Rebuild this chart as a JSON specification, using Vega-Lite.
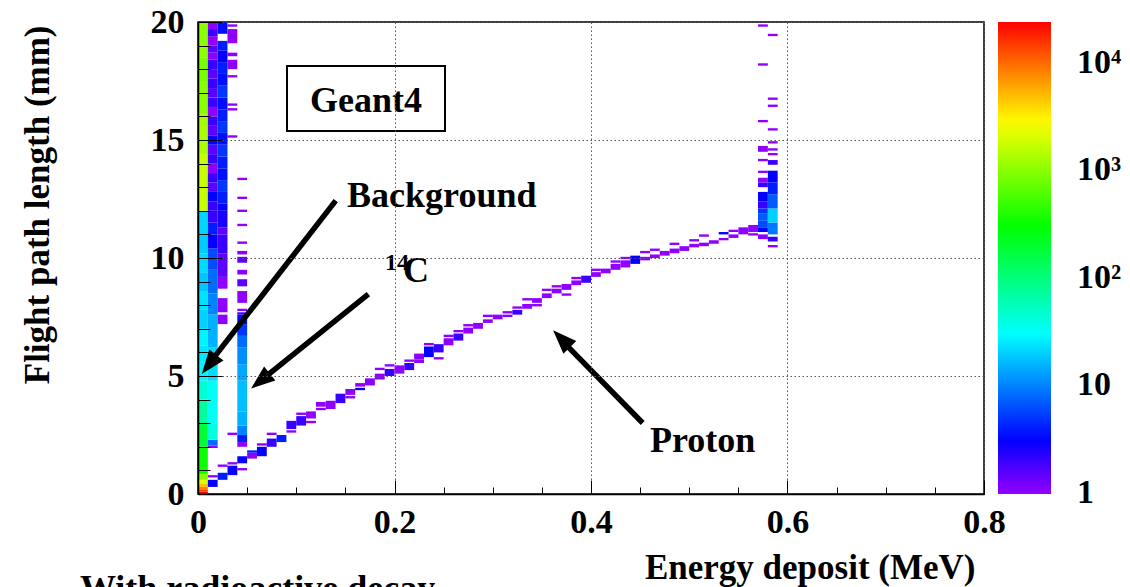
{
"$schema": "https://vega.github.io/schema/vega-lite/v6.json",
"width": 786, "height": 472,
"autosize": {"type": "none"},
"padding": {"left": 198, "top": 22, "right": 146, "bottom": 93},
"background": "white",
"config": {"font": "Liberation Serif", "view": {"stroke": "black", "strokeWidth": 1.5}},
"resolve": {"axis": {"x": "independent", "y": "independent"}},
"datasets": {
"cells": [
{"e0":0,"e1":0.01,"l0":0,"l1":0.1,"n":24000},{"e0":0,"e1":0.01,"l0":0.1,"l1":0.2,"n":14000},{"e0":0,"e1":0.01,"l0":0.2,"l1":0.3,"n":8300},{"e0":0,"e1":0.01,"l0":0.3,"l1":0.45,"n":4800},{"e0":0,"e1":0.01,"l0":0.45,"l1":0.6,"n":2100},{"e0":0,"e1":0.01,"l0":0.6,"l1":0.85,"n":900},{"e0":0,"e1":0.01,"l0":0.85,"l1":2.0,"n":330},{"e0":0,"e1":0.01,"l0":2.0,"l1":3.0,"n":190},{"e0":0,"e1":0.01,"l0":3.0,"l1":4.0,"n":75},{"e0":0,"e1":0.01,"l0":4.0,"l1":4.8,"n":45},{"e0":0,"e1":0.01,"l0":4.8,"l1":5.6,"n":28},{"e0":0,"e1":0.01,"l0":5.6,"l1":6.3,"n":24},{"e0":0,"e1":0.01,"l0":6.3,"l1":7.0,"n":27},{"e0":0,"e1":0.01,"l0":7.0,"l1":7.8,"n":20},{"e0":0,"e1":0.01,"l0":7.8,"l1":8.6,"n":23},{"e0":0,"e1":0.01,"l0":8.6,"l1":9.4,"n":18},{"e0":0,"e1":0.01,"l0":9.4,"l1":10.2,"n":22},{"e0":0,"e1":0.01,"l0":10.2,"l1":11.0,"n":19},{"e0":0,"e1":0.01,"l0":11.0,"l1":12.0,"n":21},{"e0":0,"e1":0.01,"l0":12.0,"l1":14.4,"n":1700},{"e0":0,"e1":0.01,"l0":14.4,"l1":16.1,"n":1300},{"e0":0,"e1":0.01,"l0":16.1,"l1":17.5,"n":1000},{"e0":0,"e1":0.01,"l0":17.5,"l1":18.5,"n":850},{"e0":0,"e1":0.01,"l0":18.5,"l1":20,"n":1000},
{"e0":0.01,"e1":0.02,"l0":0.3,"l1":0.6,"n":3},{"e0":0.01,"e1":0.02,"l0":0.7,"l1":0.8,"n":1},{"e0":0.01,"e1":0.02,"l0":1.95,"l1":2.05,"n":1},{"e0":0.01,"e1":0.02,"l0":2.05,"l1":2.3,"n":8},{"e0":0.01,"e1":0.02,"l0":2.3,"l1":3.0,"n":40},{"e0":0.01,"e1":0.02,"l0":3.0,"l1":4.8,"n":33},{"e0":0.01,"e1":0.02,"l0":4.8,"l1":6.2,"n":22},{"e0":0.01,"e1":0.02,"l0":6.2,"l1":7.6,"n":15},{"e0":0.01,"e1":0.02,"l0":7.6,"l1":8.5,"n":10},{"e0":0.01,"e1":0.02,"l0":8.5,"l1":9.5,"n":8},{"e0":0.01,"e1":0.02,"l0":9.5,"l1":10.4,"n":6},{"e0":0.01,"e1":0.02,"l0":10.4,"l1":11.0,"n":3},{"e0":0.01,"e1":0.02,"l0":11.0,"l1":11.5,"n":4},{"e0":0.01,"e1":0.02,"l0":11.5,"l1":12.0,"n":2},{"e0":0.01,"e1":0.02,"l0":12.0,"l1":12.4,"n":2},{"e0":0.01,"e1":0.02,"l0":12.4,"l1":12.8,"n":3},{"e0":0.01,"e1":0.02,"l0":12.8,"l1":13.2,"n":1.5},{"e0":0.01,"e1":0.02,"l0":13.2,"l1":13.6,"n":2},{"e0":0.01,"e1":0.02,"l0":13.6,"l1":14.0,"n":1},{"e0":0.01,"e1":0.02,"l0":14.0,"l1":14.4,"n":2},{"e0":0.01,"e1":0.02,"l0":14.4,"l1":14.8,"n":1.5},{"e0":0.01,"e1":0.02,"l0":14.8,"l1":15.2,"n":3},{"e0":0.01,"e1":0.02,"l0":15.2,"l1":15.6,"n":1.5},{"e0":0.01,"e1":0.02,"l0":15.6,"l1":16.0,"n":2},{"e0":0.01,"e1":0.02,"l0":16.0,"l1":16.4,"n":1},{"e0":0.01,"e1":0.02,"l0":16.4,"l1":16.8,"n":2},{"e0":0.01,"e1":0.02,"l0":16.8,"l1":17.2,"n":1.5},{"e0":0.01,"e1":0.02,"l0":17.2,"l1":17.6,"n":2},{"e0":0.01,"e1":0.02,"l0":17.6,"l1":18.0,"n":1.5},{"e0":0.01,"e1":0.02,"l0":18.0,"l1":18.4,"n":2},{"e0":0.01,"e1":0.02,"l0":18.4,"l1":18.7,"n":1},{"e0":0.01,"e1":0.02,"l0":18.7,"l1":19.0,"n":1.5},{"e0":0.01,"e1":0.02,"l0":19.0,"l1":19.4,"n":1},{"e0":0.01,"e1":0.02,"l0":19.4,"l1":19.7,"n":2},{"e0":0.01,"e1":0.02,"l0":19.7,"l1":20,"n":1},
{"e0":0.02,"e1":0.03,"l0":0.6,"l1":0.9,"n":4},{"e0":0.02,"e1":0.03,"l0":1.15,"l1":1.25,"n":1},{"e0":0.02,"e1":0.03,"l0":7.2,"l1":7.6,"n":1},{"e0":0.02,"e1":0.03,"l0":7.7,"l1":8.3,"n":1},{"e0":0.02,"e1":0.03,"l0":8.7,"l1":9.2,"n":1},{"e0":0.02,"e1":0.03,"l0":9.2,"l1":10.2,"n":1.5},{"e0":0.02,"e1":0.03,"l0":10.2,"l1":11.0,"n":2},{"e0":0.02,"e1":0.03,"l0":11.0,"l1":11.3,"n":1.5},{"e0":0.02,"e1":0.03,"l0":11.3,"l1":12.0,"n":2.5},{"e0":0.02,"e1":0.03,"l0":12.0,"l1":12.3,"n":3},{"e0":0.02,"e1":0.03,"l0":12.3,"l1":12.8,"n":4},{"e0":0.02,"e1":0.03,"l0":12.8,"l1":13.3,"n":5},{"e0":0.02,"e1":0.03,"l0":13.3,"l1":13.8,"n":3.5},{"e0":0.02,"e1":0.03,"l0":13.8,"l1":14.3,"n":4},{"e0":0.02,"e1":0.03,"l0":14.3,"l1":14.8,"n":5},{"e0":0.02,"e1":0.03,"l0":14.8,"l1":15.3,"n":3.5},{"e0":0.02,"e1":0.03,"l0":15.3,"l1":15.8,"n":5},{"e0":0.02,"e1":0.03,"l0":15.8,"l1":16.3,"n":4},{"e0":0.02,"e1":0.03,"l0":16.3,"l1":16.8,"n":3.5},{"e0":0.02,"e1":0.03,"l0":16.8,"l1":17.3,"n":5},{"e0":0.02,"e1":0.03,"l0":17.3,"l1":17.8,"n":3.5},{"e0":0.02,"e1":0.03,"l0":17.8,"l1":18.3,"n":4},{"e0":0.02,"e1":0.03,"l0":18.3,"l1":18.8,"n":3},{"e0":0.02,"e1":0.03,"l0":18.8,"l1":19.2,"n":4},{"e0":0.02,"e1":0.03,"l0":19.5,"l1":20,"n":3.5},
{"e0":0.03,"e1":0.04,"l0":0.8,"l1":1.2,"n":3},{"e0":0.03,"e1":0.04,"l0":1.25,"l1":1.35,"n":1},{"e0":0.03,"e1":0.04,"l0":2.5,"l1":2.6,"n":1},{"e0":0.03,"e1":0.04,"l0":15.1,"l1":15.2,"n":1},{"e0":0.03,"e1":0.04,"l0":16.25,"l1":16.35,"n":1},{"e0":0.03,"e1":0.04,"l0":16.45,"l1":16.55,"n":1},{"e0":0.03,"e1":0.04,"l0":17.65,"l1":17.75,"n":1},{"e0":0.03,"e1":0.04,"l0":18.0,"l1":18.4,"n":1},{"e0":0.03,"e1":0.04,"l0":18.55,"l1":18.7,"n":1},{"e0":0.03,"e1":0.04,"l0":19.1,"l1":19.7,"n":1},{"e0":0.03,"e1":0.04,"l0":19.8,"l1":19.9,"n":1},
{"e0":0.04,"e1":0.05,"l0":1.0,"l1":1.1,"n":1},{"e0":0.04,"e1":0.05,"l0":1.3,"l1":1.6,"n":3},{"e0":0.04,"e1":0.05,"l0":2.0,"l1":2.2,"n":1},{"e0":0.04,"e1":0.05,"l0":2.2,"l1":2.5,"n":4},{"e0":0.04,"e1":0.05,"l0":2.5,"l1":2.9,"n":10},{"e0":0.04,"e1":0.05,"l0":2.9,"l1":3.5,"n":15},{"e0":0.04,"e1":0.05,"l0":3.5,"l1":4.8,"n":17},{"e0":0.04,"e1":0.05,"l0":4.8,"l1":5.5,"n":14},{"e0":0.04,"e1":0.05,"l0":5.5,"l1":6.2,"n":11},{"e0":0.04,"e1":0.05,"l0":6.2,"l1":6.7,"n":8},{"e0":0.04,"e1":0.05,"l0":6.7,"l1":7.2,"n":5},{"e0":0.04,"e1":0.05,"l0":7.2,"l1":7.6,"n":3},{"e0":0.04,"e1":0.05,"l0":7.6,"l1":7.7,"n":2},{"e0":0.04,"e1":0.05,"l0":7.75,"l1":7.85,"n":1},{"e0":0.04,"e1":0.05,"l0":8.1,"l1":8.6,"n":1},{"e0":0.04,"e1":0.05,"l0":8.8,"l1":9.1,"n":1.5},{"e0":0.04,"e1":0.05,"l0":9.3,"l1":9.5,"n":1},{"e0":0.04,"e1":0.05,"l0":9.8,"l1":10.05,"n":1.5},{"e0":0.04,"e1":0.05,"l0":10.15,"l1":10.3,"n":1},{"e0":0.04,"e1":0.05,"l0":10.6,"l1":10.7,"n":1},{"e0":0.04,"e1":0.05,"l0":11.35,"l1":11.45,"n":1},{"e0":0.04,"e1":0.05,"l0":11.95,"l1":12.05,"n":1},{"e0":0.04,"e1":0.05,"l0":12.5,"l1":12.6,"n":1},{"e0":0.04,"e1":0.05,"l0":13.3,"l1":13.4,"n":1},
{"e0":0.05,"e1":0.06,"l0":1.5,"l1":1.75,"n":1},{"e0":0.05,"e1":0.06,"l0":1.75,"l1":1.85,"n":4},
{"e0":0.06,"e1":0.07,"l0":1.6,"l1":2.0,"n":3},{"e0":0.06,"e1":0.07,"l0":2.05,"l1":2.15,"n":1},
{"e0":0.07,"e1":0.08,"l0":2.0,"l1":2.35,"n":2},{"e0":0.07,"e1":0.08,"l0":2.5,"l1":2.6,"n":1},
{"e0":0.08,"e1":0.09,"l0":2.2,"l1":2.5,"n":4},
{"e0":0.09,"e1":0.1,"l0":2.6,"l1":2.7,"n":1},{"e0":0.09,"e1":0.1,"l0":2.75,"l1":3.1,"n":2},
{"e0":0.1,"e1":0.11,"l0":2.9,"l1":3.3,"n":2},{"e0":0.1,"e1":0.11,"l0":3.35,"l1":3.45,"n":1},
{"e0":0.11,"e1":0.12,"l0":3.0,"l1":3.1,"n":1},{"e0":0.11,"e1":0.12,"l0":3.2,"l1":3.5,"n":1},
{"e0":0.12,"e1":0.13,"l0":3.55,"l1":3.65,"n":1},{"e0":0.12,"e1":0.13,"l0":3.7,"l1":3.9,"n":1},
{"e0":0.13,"e1":0.14,"l0":3.6,"l1":3.95,"n":1},
{"e0":0.14,"e1":0.15,"l0":3.85,"l1":4.25,"n":2},
{"e0":0.15,"e1":0.16,"l0":4.05,"l1":4.15,"n":1},{"e0":0.15,"e1":0.16,"l0":4.2,"l1":4.45,"n":1},
{"e0":0.16,"e1":0.17,"l0":4.4,"l1":4.5,"n":3},{"e0":0.16,"e1":0.17,"l0":4.55,"l1":4.7,"n":1},
{"e0":0.17,"e1":0.18,"l0":4.6,"l1":4.9,"n":1},
{"e0":0.18,"e1":0.19,"l0":4.85,"l1":5.1,"n":1},{"e0":0.18,"e1":0.19,"l0":5.25,"l1":5.35,"n":1},
{"e0":0.19,"e1":0.2,"l0":5.0,"l1":5.3,"n":2},{"e0":0.19,"e1":0.2,"l0":5.4,"l1":5.5,"n":1},
{"e0":0.2,"e1":0.21,"l0":5.1,"l1":5.45,"n":1},
{"e0":0.21,"e1":0.22,"l0":5.25,"l1":5.55,"n":2},{"e0":0.21,"e1":0.22,"l0":5.6,"l1":5.7,"n":1},
{"e0":0.22,"e1":0.23,"l0":5.55,"l1":5.7,"n":1},{"e0":0.22,"e1":0.23,"l0":5.7,"l1":5.95,"n":1},
{"e0":0.23,"e1":0.24,"l0":5.8,"l1":6.25,"n":3},{"e0":0.23,"e1":0.24,"l0":6.3,"l1":6.4,"n":1},
{"e0":0.24,"e1":0.25,"l0":5.7,"l1":5.8,"n":1},{"e0":0.24,"e1":0.25,"l0":6.0,"l1":6.35,"n":2},
{"e0":0.25,"e1":0.26,"l0":6.3,"l1":6.6,"n":1},{"e0":0.25,"e1":0.26,"l0":6.65,"l1":6.75,"n":1},
{"e0":0.26,"e1":0.27,"l0":6.5,"l1":6.8,"n":2},{"e0":0.26,"e1":0.27,"l0":6.85,"l1":6.95,"n":1},
{"e0":0.27,"e1":0.28,"l0":6.8,"l1":7.05,"n":1},{"e0":0.27,"e1":0.28,"l0":7.1,"l1":7.2,"n":1},
{"e0":0.28,"e1":0.29,"l0":7.0,"l1":7.25,"n":1},
{"e0":0.29,"e1":0.3,"l0":7.25,"l1":7.4,"n":1},{"e0":0.29,"e1":0.3,"l0":7.5,"l1":7.6,"n":1},
{"e0":0.3,"e1":0.31,"l0":7.4,"l1":7.6,"n":1},
{"e0":0.31,"e1":0.32,"l0":7.5,"l1":7.6,"n":1},{"e0":0.31,"e1":0.32,"l0":7.65,"l1":7.75,"n":1},
{"e0":0.32,"e1":0.33,"l0":7.6,"l1":7.8,"n":2},{"e0":0.32,"e1":0.33,"l0":7.85,"l1":7.95,"n":1},
{"e0":0.33,"e1":0.34,"l0":7.85,"l1":8.05,"n":1},{"e0":0.33,"e1":0.34,"l0":8.2,"l1":8.3,"n":1},
{"e0":0.34,"e1":0.35,"l0":7.95,"l1":8.05,"n":1},{"e0":0.34,"e1":0.35,"l0":8.1,"l1":8.3,"n":1},
{"e0":0.35,"e1":0.36,"l0":8.3,"l1":8.5,"n":1},{"e0":0.35,"e1":0.36,"l0":8.6,"l1":8.7,"n":1},
{"e0":0.36,"e1":0.37,"l0":8.5,"l1":8.7,"n":1},{"e0":0.36,"e1":0.37,"l0":8.75,"l1":8.85,"n":1},
{"e0":0.37,"e1":0.38,"l0":8.4,"l1":8.5,"n":1},{"e0":0.37,"e1":0.38,"l0":8.65,"l1":8.9,"n":1},
{"e0":0.38,"e1":0.39,"l0":8.85,"l1":9.05,"n":1},{"e0":0.38,"e1":0.39,"l0":9.1,"l1":9.2,"n":1},
{"e0":0.39,"e1":0.4,"l0":8.95,"l1":9.25,"n":2},
{"e0":0.4,"e1":0.41,"l0":9.2,"l1":9.4,"n":1},{"e0":0.4,"e1":0.41,"l0":9.45,"l1":9.55,"n":1},
{"e0":0.41,"e1":0.42,"l0":9.35,"l1":9.55,"n":1},
{"e0":0.42,"e1":0.43,"l0":9.5,"l1":9.75,"n":1},{"e0":0.42,"e1":0.43,"l0":9.8,"l1":9.9,"n":1},
{"e0":0.43,"e1":0.44,"l0":9.6,"l1":9.9,"n":1},{"e0":0.43,"e1":0.44,"l0":9.95,"l1":10.05,"n":1},
{"e0":0.44,"e1":0.45,"l0":9.75,"l1":10.1,"n":3},
{"e0":0.45,"e1":0.46,"l0":9.9,"l1":10.05,"n":1},{"e0":0.45,"e1":0.46,"l0":10.2,"l1":10.3,"n":1},
{"e0":0.46,"e1":0.47,"l0":10.0,"l1":10.15,"n":1},{"e0":0.46,"e1":0.47,"l0":10.3,"l1":10.4,"n":1},
{"e0":0.47,"e1":0.48,"l0":10.1,"l1":10.3,"n":1},
{"e0":0.48,"e1":0.49,"l0":10.2,"l1":10.4,"n":1},{"e0":0.48,"e1":0.49,"l0":10.55,"l1":10.65,"n":1},
{"e0":0.49,"e1":0.5,"l0":10.3,"l1":10.5,"n":1},
{"e0":0.5,"e1":0.51,"l0":10.45,"l1":10.6,"n":1},{"e0":0.5,"e1":0.51,"l0":10.7,"l1":10.8,"n":1},
{"e0":0.51,"e1":0.52,"l0":10.5,"l1":10.65,"n":1},{"e0":0.51,"e1":0.52,"l0":10.9,"l1":11.0,"n":1},
{"e0":0.52,"e1":0.53,"l0":10.6,"l1":10.75,"n":1},
{"e0":0.53,"e1":0.54,"l0":10.75,"l1":10.85,"n":1},{"e0":0.53,"e1":0.54,"l0":11.0,"l1":11.1,"n":3},
{"e0":0.54,"e1":0.55,"l0":10.85,"l1":11.0,"n":1},{"e0":0.54,"e1":0.55,"l0":11.1,"l1":11.2,"n":1},
{"e0":0.55,"e1":0.56,"l0":11.0,"l1":11.3,"n":1},
{"e0":0.56,"e1":0.57,"l0":10.95,"l1":11.05,"n":1},{"e0":0.56,"e1":0.57,"l0":11.1,"l1":11.4,"n":1},
{"e0":0.57,"e1":0.58,"l0":10.8,"l1":11.0,"n":1},{"e0":0.57,"e1":0.58,"l0":11.1,"l1":11.3,"n":3},{"e0":0.57,"e1":0.58,"l0":11.3,"l1":11.6,"n":6},{"e0":0.57,"e1":0.58,"l0":11.6,"l1":11.9,"n":7},{"e0":0.57,"e1":0.58,"l0":11.9,"l1":12.1,"n":5},{"e0":0.57,"e1":0.58,"l0":12.1,"l1":12.4,"n":2},{"e0":0.57,"e1":0.58,"l0":12.4,"l1":12.8,"n":3},{"e0":0.57,"e1":0.58,"l0":13.0,"l1":13.2,"n":2},{"e0":0.57,"e1":0.58,"l0":13.2,"l1":13.4,"n":1},{"e0":0.57,"e1":0.58,"l0":13.6,"l1":13.7,"n":1},{"e0":0.57,"e1":0.58,"l0":14.1,"l1":14.2,"n":1},{"e0":0.57,"e1":0.58,"l0":14.5,"l1":14.75,"n":1},{"e0":0.57,"e1":0.58,"l0":15.75,"l1":15.85,"n":1},{"e0":0.57,"e1":0.58,"l0":18.15,"l1":18.25,"n":1},{"e0":0.57,"e1":0.58,"l0":19.8,"l1":19.9,"n":1},
{"e0":0.58,"e1":0.59,"l0":10.45,"l1":10.55,"n":1},{"e0":0.58,"e1":0.59,"l0":10.7,"l1":10.9,"n":2},{"e0":0.58,"e1":0.59,"l0":11.0,"l1":11.5,"n":9},{"e0":0.58,"e1":0.59,"l0":11.5,"l1":12.1,"n":20},{"e0":0.58,"e1":0.59,"l0":12.1,"l1":12.7,"n":7},{"e0":0.58,"e1":0.59,"l0":12.7,"l1":13.2,"n":4},{"e0":0.58,"e1":0.59,"l0":13.2,"l1":13.7,"n":3},{"e0":0.58,"e1":0.59,"l0":13.95,"l1":14.15,"n":2},{"e0":0.58,"e1":0.59,"l0":14.35,"l1":14.45,"n":1},{"e0":0.58,"e1":0.59,"l0":14.55,"l1":14.65,"n":1},{"e0":0.58,"e1":0.59,"l0":14.85,"l1":14.95,"n":1},{"e0":0.58,"e1":0.59,"l0":15.4,"l1":15.5,"n":1},{"e0":0.58,"e1":0.59,"l0":16.4,"l1":16.5,"n":1},{"e0":0.58,"e1":0.59,"l0":16.7,"l1":16.8,"n":1},{"e0":0.58,"e1":0.59,"l0":19.4,"l1":19.5,"n":1}
],
"arrows": [
{"id":"bg","e0":0.1402,"l0":12.43,"e1":0.01374,"l1":5.65,"te":0.0038,"tl":5.08},
{"id":"c14","e0":0.1734,"l0":8.47,"e1":0.0667,"l1":4.90,"te":0.054,"tl":4.47},
{"id":"p","e0":0.4526,"l0":3.01,"e1":0.373,"l1":6.39,"te":0.3614,"tl":6.94}
]
},
"layer": [
{"data": {"name": "cells"},
 "mark": {"type": "rect"},
 "encoding": {
  "x": {"field": "e0", "type": "quantitative", "scale": {"domain": [0, 0.8], "nice": false, "zero": false},
   "axis": {"orient": "bottom", "title": "Energy deposit (MeV)", "values": [0,0.05,0.1,0.15,0.2,0.25,0.3,0.35,0.4,0.45,0.5,0.55,0.6,0.65,0.7,0.75,0.8],
    "format": "~g",
    "labelExpr": "abs(datum.value*5-round(datum.value*5))<0.000001 ? datum.label : ''",
    "tickSize": -7,
    "gridOpacity": {"condition": {"test": "abs(datum.value*5-round(datum.value*5))<0.000001", "value": 1}, "value": 0},
    "grid": true, "gridDash": [1.5, 2.5], "gridColor": "#555555", "gridWidth": 1,
    "labelPadding": 45, "labelBaseline": "alphabetic", "labelFlush": false, "labelOverlap": false,
    "labelFont": "Liberation Serif", "labelFontSize": 34, "labelFontWeight": "bold", "labelColor": "black",
    "domainColor": "black", "domainWidth": 1.5, "tickColor": "black", "tickWidth": 1,
    "titleFont": "Liberation Serif", "titleFontSize": 35, "titleFontWeight": "bold", "titleColor": "black",
    "titleAlign": "right", "titleBaseline": "alphabetic", "titleX": 777, "titleY": 84, "titleAnchor": "end",
    "zindex": 1}},
  "x2": {"field": "e1"},
  "y": {"field": "l0", "type": "quantitative", "scale": {"domain": [0, 20], "nice": false, "zero": false},
   "axis": {"orient": "left", "title": "Flight path length (mm)", "values": [0,1,2,3,4,5,6,7,8,9,10,11,12,13,14,15,16,17,18,19,20],
    "labelExpr": "abs(datum.value/5-round(datum.value/5))<0.000001 ? datum.label : ''",
    "tickSize": -12,
    "gridOpacity": {"condition": {"test": "abs(datum.value/5-round(datum.value/5))<0.000001", "value": 1}, "value": 0},
    "grid": true, "gridDash": [1.5, 2.5], "gridColor": "#555555", "gridWidth": 1,
    "labelPadding": 26, "labelBaseline": "middle", "labelFlush": false, "labelOverlap": false,
    "labelFont": "Liberation Serif", "labelFontSize": 34, "labelFontWeight": "bold", "labelColor": "black",
    "domainColor": "black", "domainWidth": 1.5, "tickColor": "black", "tickWidth": 1,
    "titleFont": "Liberation Serif", "titleFontSize": 35, "titleFontWeight": "bold", "titleColor": "black",
    "titleAngle": -90, "titleAnchor": "end", "titleAlign": "right", "titleBaseline": "alphabetic", "titleX": -150, "titleY": 3,
    "zindex": 1}},
  "y2": {"field": "l1"},
  "color": {"field": "n", "type": "quantitative",
   "scale": {"type": "log", "domain": [0.97, 3.1, 30, 300, 2800, 8300, 24000],
    "range": ["#9400ff", "#0000ff", "#00ffff", "#00ff00", "#ffff00", "#ff8000", "#ff0000"], "interpolate": "rgb"},
   "legend": {"orient": "none", "legendX": 800, "legendY": 0, "direction": "vertical", "title": null,
    "gradientLength": 472, "gradientThickness": 53, "gradientStrokeWidth": 0,
    "values": [1, 10, 100, 1000, 10000],
    "labelExpr": "datum.value == 1 ? '1' : datum.value == 10 ? '10' : datum.value == 100 ? '10²' : datum.value == 1000 ? '10³' : '10⁴'",
    "labelFont": "Liberation Serif", "labelFontSize": 34, "labelFontWeight": "bold", "labelColor": "black",
    "labelBaseline": "middle", "labelOffset": 26, "labelOverlap": false, "padding": 0}}
 }},
{"data": {"values": [{"e0": 0.0906, "e1": 0.2514, "l0": 15.38, "l1": 18.14}]},
 "mark": {"type": "rect", "fill": "white", "stroke": "black", "strokeWidth": 2},
 "encoding": {"x": {"field": "e0", "type": "quantitative",
   "axis": {"orient": "bottom", "values": [0, 0.2, 0.4, 0.6, 0.8], "tickSize": -14, "tickColor": "black", "tickWidth": 1, "labels": false, "grid": false, "domain": false, "title": null, "zindex": 1}},
  "x2": {"field": "e1"},
  "y": {"field": "l0", "type": "quantitative",
   "axis": {"orient": "left", "values": [0, 5, 10, 15, 20], "tickSize": -24, "tickColor": "black", "tickWidth": 1, "labels": false, "grid": false, "domain": false, "title": null, "zindex": 1}},
  "y2": {"field": "l1"}}},
{"data": {"name": "arrows"},
 "mark": {"type": "rule", "strokeWidth": 5.5, "color": "black", "strokeCap": "butt"},
 "encoding": {"x": {"field": "e0", "type": "quantitative", "axis": null}, "x2": {"field": "e1"},
  "y": {"field": "l0", "type": "quantitative", "axis": null}, "y2": {"field": "l1"}}},
{"data": {"name": "arrows"}, "transform": [{"filter": "datum.id == 'bg'"}],
 "mark": {"type": "point", "shape": "M0,0L0.75,2L-0.75,2Z", "size": 576, "filled": true, "color": "black", "opacity": 1, "angle": 217.6},
 "encoding": {"x": {"field": "te", "type": "quantitative", "axis": null}, "y": {"field": "tl", "type": "quantitative", "axis": null}}},
{"data": {"name": "arrows"}, "transform": [{"filter": "datum.id == 'c14'"}],
 "mark": {"type": "point", "shape": "M0,0L0.75,2L-0.75,2Z", "size": 576, "filled": true, "color": "black", "opacity": 1, "angle": 231.2},
 "encoding": {"x": {"field": "te", "type": "quantitative", "axis": null}, "y": {"field": "tl", "type": "quantitative", "axis": null}}},
{"data": {"name": "arrows"}, "transform": [{"filter": "datum.id == 'p'"}],
 "mark": {"type": "point", "shape": "M0,0L0.75,2L-0.75,2Z", "size": 576, "filled": true, "color": "black", "opacity": 1, "angle": 315.7},
 "encoding": {"x": {"field": "te", "type": "quantitative", "axis": null}, "y": {"field": "tl", "type": "quantitative", "axis": null}}},
{"data": {"values": [
  {"t": "Background", "e": 0.1517, "l": 12.16},
  {"t": "Proton", "e": 0.4601, "l": 1.78},
  {"t": "C", "e": 0.2087, "l": 8.98},
  {"t": "With radioactive decay", "e": -0.1201, "l": -4.49}]},
 "mark": {"type": "text", "font": "Liberation Serif", "fontWeight": "bold", "fontSize": 36, "align": "left", "baseline": "alphabetic", "color": "black"},
 "encoding": {"x": {"field": "e", "type": "quantitative", "axis": null}, "y": {"field": "l", "type": "quantitative", "axis": null}, "text": {"field": "t"}}},
{"data": {"values": [{"t": "14", "e": 0.1903, "l": 9.49}]},
 "mark": {"type": "text", "font": "Liberation Serif", "fontWeight": "bold", "fontSize": 24, "align": "left", "baseline": "alphabetic", "color": "black"},
 "encoding": {"x": {"field": "e", "type": "quantitative", "axis": null}, "y": {"field": "l", "type": "quantitative", "axis": null}, "text": {"field": "t"}}},
{"data": {"values": [{"t": "Geant4", "e": 0.171, "l": 16.19}]},
 "mark": {"type": "text", "font": "Liberation Serif", "fontWeight": "bold", "fontSize": 36, "align": "center", "baseline": "alphabetic", "color": "black"},
 "encoding": {"x": {"field": "e", "type": "quantitative", "axis": null}, "y": {"field": "l", "type": "quantitative", "axis": null}, "text": {"field": "t"}}}
]
}
